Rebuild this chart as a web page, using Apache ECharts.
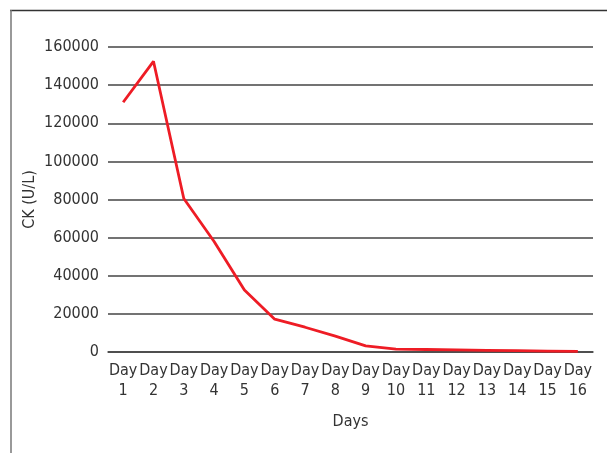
<!DOCTYPE html>
<html>
<head>
<meta charset="utf-8">
<script src="https://cdn.jsdelivr.net/npm/echarts@6/dist/echarts.min.js"></script>
<style>html,body{margin:0;padding:0;background:#fff}#c{width:607px;height:453px}</style>
</head>
<body>
<div id="c"></div>
<script>
const categories = ['Day\n1','Day\n2','Day\n3','Day\n4','Day\n5','Day\n6','Day\n7','Day\n8','Day\n9','Day\n10','Day\n11','Day\n12','Day\n13','Day\n14','Day\n15','Day\n16'];
const ckValues = [131000, 152500, 80500, 58000, 32500, 17200, 13000, 8300, 3200, 1500, 1300, 1100, 900, 700, 500, 300];
const yTicks = [0, 20000, 40000, 60000, 80000, 100000, 120000, 140000, 160000];

const font = '"Liberation Sans Narrow", "DejaVu Sans Condensed", sans-serif';
const chart = echarts.init(document.getElementById('c'), null, {renderer: 'canvas'});
chart.setOption({
  animation: false,
  backgroundColor: '#fff',
  grid: {left: 108, right: 14, top: 47, bottom: 101, containLabel: false},
  graphic: [
    {type: 'line', shape: {x1: 10, y1: 10.5, x2: 607, y2: 10.5}, style: {stroke: '#333', lineWidth: 1.5}},
    {type: 'line', shape: {x1: 11, y1: 10, x2: 11, y2: 453}, style: {stroke: '#777', lineWidth: 1.5}}
  ],
  xAxis: {
    type: 'category',
    data: categories,
    boundaryGap: true,
    axisLine: {show: true, lineStyle: {color: '#444', width: 1.5}},
    axisTick: {show: false},
    axisLabel: {interval: 0, color: '#333', fontFamily: font, fontSize: 16, lineHeight: 20, margin: 9},
    name: 'Days',
    nameLocation: 'middle',
    nameGap: 62,
    nameTextStyle: {color: '#333', fontFamily: font, fontSize: 16}
  },
  yAxis: {
    type: 'value',
    min: yTicks[0],
    max: yTicks[yTicks.length - 1],
    interval: 20000,
    axisLine: {show: false},
    axisTick: {show: false},
    splitLine: {show: true, lineStyle: {color: '#444', width: 1.5}},
    axisLabel: {color: '#333', fontFamily: font, fontSize: 16, margin: 9, formatter: v => String(v)},
    name: 'CK (U/L)',
    nameLocation: 'middle',
    nameGap: 78,
    nameMoveOverlap: false,
    nameRotate: 90,
    nameTextStyle: {color: '#333', fontFamily: font, fontSize: 16, verticalAlign: 'middle'}
  },
  series: [{
    type: 'line',
    data: ckValues,
    symbol: 'none',
    lineStyle: {color: '#ee1c25', width: 2.8}
  }]
});
</script>
</body>
</html>
